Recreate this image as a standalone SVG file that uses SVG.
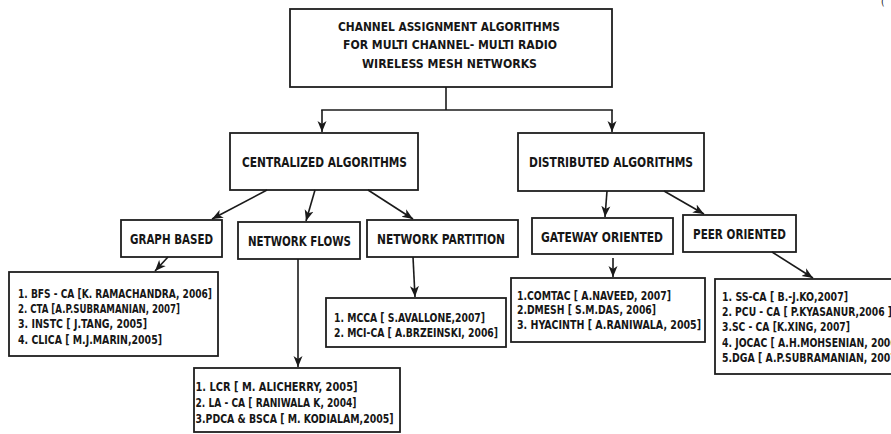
<svg xmlns="http://www.w3.org/2000/svg" width="891" height="434" viewBox="0 0 891 434">
<style>
  rect.box { fill: #ffffff; stroke: #1e1e1e; stroke-width: 1.8; }
  text { font-family: "DejaVu Sans Condensed", "DejaVu Sans", "Liberation Sans", sans-serif; font-weight: bold; fill: #161616; }
  .title { font-size: 13px; text-anchor: middle; }
  .head { font-size: 14px; text-anchor: middle; }
  .item { font-size: 12px; }
  .conn line, .conn path { stroke: #1a1a1a; stroke-width: 1.6; fill: none; }
  .conn .arr { marker-end: url(#ah); }
</style>
<defs>
  <marker id="ah" markerUnits="userSpaceOnUse" markerWidth="12" markerHeight="10" refX="11" refY="5" orient="auto">
    <path d="M0,0.5 L11,5 L0,9.5 L3,5 Z" fill="#1a1a1a"/>
  </marker>
</defs>
<rect width="891" height="434" fill="#ffffff"/>
<text x="881" y="5" style="font-size:10px;font-weight:normal">(</text>

<g id="root">
  <rect class="box" x="290" y="9" width="322" height="78"/>
  <text class="title" x="449" y="31" textLength="222" lengthAdjust="spacingAndGlyphs">CHANNEL ASSIGNMENT ALGORITHMS</text>
  <text class="title" x="450" y="49" textLength="214" lengthAdjust="spacingAndGlyphs">FOR MULTI CHANNEL- MULTI RADIO</text>
  <text class="title" x="449.5" y="67.5" textLength="175" lengthAdjust="spacingAndGlyphs">WIRELESS MESH NETWORKS</text>
</g>

<g id="centralized">
  <rect class="box" x="230" y="133" width="188" height="57"/>
  <text class="head" x="324.5" y="167" textLength="165" lengthAdjust="spacingAndGlyphs">CENTRALIZED ALGORITHMS</text>
</g>

<g id="distributed">
  <rect class="box" x="518" y="133" width="186" height="58"/>
  <text class="head" x="611" y="167" textLength="164" lengthAdjust="spacingAndGlyphs">DISTRIBUTED ALGORITHMS</text>
</g>

<g id="graph-based">
  <rect class="box" x="121" y="220" width="101" height="37"/>
  <text class="head" x="171.5" y="244" textLength="83" lengthAdjust="spacingAndGlyphs">GRAPH BASED</text>
</g>

<g id="network-flows">
  <rect class="box" x="238" y="222" width="122" height="37"/>
  <text class="head" x="299.5" y="246" textLength="103" lengthAdjust="spacingAndGlyphs">NETWORK FLOWS</text>
</g>

<g id="network-partition">
  <rect class="box" x="367" y="220" width="151" height="37"/>
  <text class="head" x="441" y="244.3" textLength="128" lengthAdjust="spacingAndGlyphs">NETWORK PARTITION</text>
</g>

<g id="gateway-oriented">
  <rect class="box" x="532" y="218" width="141" height="36"/>
  <text class="head" x="602" y="241.7" textLength="122" lengthAdjust="spacingAndGlyphs">GATEWAY ORIENTED</text>
</g>

<g id="peer-oriented">
  <rect class="box" x="683" y="215" width="113" height="37"/>
  <text class="head" x="739.5" y="239" textLength="93" lengthAdjust="spacingAndGlyphs">PEER ORIENTED</text>
</g>

<g id="graph-list">
  <rect class="box" x="9" y="272" width="209" height="84"/>
  <text class="item" x="18" y="297.5" textLength="194" lengthAdjust="spacingAndGlyphs">1. BFS - CA [K. RAMACHANDRA, 2006]</text>
  <text class="item" x="18" y="313" textLength="162" lengthAdjust="spacingAndGlyphs">2. CTA [A.P.SUBRAMANIAN, 2007]</text>
  <text class="item" x="18" y="328" textLength="129" lengthAdjust="spacingAndGlyphs">3. INSTC [ J.TANG, 2005]</text>
  <text class="item" x="18" y="343.5" textLength="144" lengthAdjust="spacingAndGlyphs">4. CLICA [ M.J.MARIN,2005]</text>
</g>

<g id="partition-list">
  <rect class="box" x="326" y="298" width="180" height="49"/>
  <text class="item" x="334" y="321.7" textLength="151" lengthAdjust="spacingAndGlyphs">1. MCCA [ S.AVALLONE,2007]</text>
  <text class="item" x="334" y="337.3" textLength="164" lengthAdjust="spacingAndGlyphs">2. MCI-CA [ A.BRZEINSKI, 2006]</text>
</g>

<g id="flows-list">
  <rect class="box" x="194" y="368" width="206" height="64"/>
  <text class="item" x="195.5" y="391" textLength="162" lengthAdjust="spacingAndGlyphs">1. LCR [ M. ALICHERRY, 2005]</text>
  <text class="item" x="195.5" y="407" textLength="161" lengthAdjust="spacingAndGlyphs">2. LA - CA [ RANIWALA K, 2004]</text>
  <text class="item" x="195.5" y="423.3" textLength="198" lengthAdjust="spacingAndGlyphs">3.PDCA &amp; BSCA [ M. KODIALAM,2005]</text>
</g>

<g id="gateway-list">
  <rect class="box" x="511" y="278" width="194" height="64"/>
  <text class="item" x="517" y="300" textLength="154" lengthAdjust="spacingAndGlyphs">1.COMTAC [ A.NAVEED, 2007]</text>
  <text class="item" x="517" y="314.3" textLength="139" lengthAdjust="spacingAndGlyphs">2.DMESH [ S.M.DAS, 2006]</text>
  <text class="item" x="517" y="329.3" textLength="184" lengthAdjust="spacingAndGlyphs">3. HYACINTH [ A.RANIWALA, 2005]</text>
</g>

<g id="peer-list">
  <rect class="box" x="715" y="279" width="200" height="95"/>
  <text class="item" x="722" y="300.7" textLength="126" lengthAdjust="spacingAndGlyphs">1. SS-CA [ B.-J.KO,2007]</text>
  <text class="item" x="722" y="316" textLength="170" lengthAdjust="spacingAndGlyphs">2. PCU - CA [ P.KYASANUR,2006 ]</text>
  <text class="item" x="722" y="331.3" textLength="128" lengthAdjust="spacingAndGlyphs">3.SC - CA [K.XING, 2007]</text>
  <text class="item" x="722" y="346.7" textLength="179" lengthAdjust="spacingAndGlyphs">4. JOCAC [ A.H.MOHSENIAN, 2006]</text>
  <text class="item" x="722" y="362.3" textLength="179" lengthAdjust="spacingAndGlyphs">5.DGA [ A.P.SUBRAMANIAN, 2007]</text>
</g>

<g id="connectors" class="conn">
  <line x1="446" y1="87" x2="446" y2="110"/>
  <line x1="321.2" y1="110" x2="612.8" y2="110"/>
  <line class="arr" x1="322" y1="110" x2="322" y2="132"/>
  <line class="arr" x1="612" y1="110" x2="612" y2="132"/>
  <line class="arr" x1="267" y1="190" x2="212" y2="219"/>
  <line class="arr" x1="315" y1="190" x2="306" y2="221"/>
  <line class="arr" x1="368" y1="190" x2="413" y2="219"/>
  <line class="arr" x1="607" y1="191" x2="605" y2="217"/>
  <line class="arr" x1="664" y1="191" x2="704" y2="214"/>
  <line class="arr" x1="168" y1="257" x2="155" y2="271"/>
  <line class="arr" x1="298" y1="259" x2="298" y2="367"/>
  <line class="arr" x1="413" y1="257" x2="415" y2="297"/>
  <line class="arr" x1="613" y1="258" x2="613" y2="277"/>
  <line class="arr" x1="772" y1="252" x2="813" y2="278"/>
</g>
</svg>
